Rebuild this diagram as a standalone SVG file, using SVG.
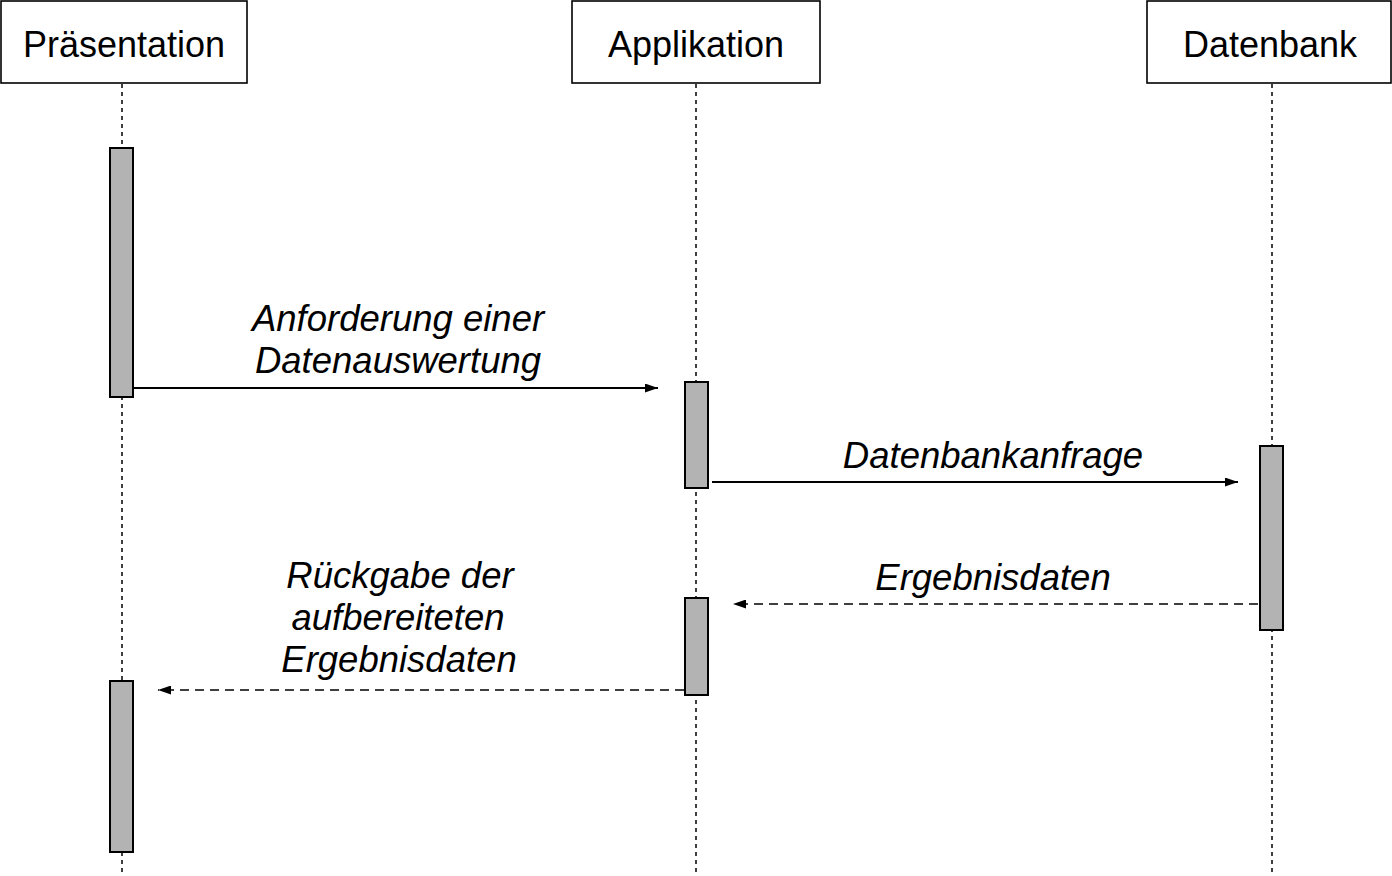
<svg xmlns="http://www.w3.org/2000/svg" width="1392" height="876" viewBox="0 0 1392 876">
<style>
.hdr{fill:#fff;stroke:#000;stroke-width:1.6}
.hdrt{font-family:"Liberation Sans",Arial,Helvetica,sans-serif;font-size:36px;fill:#000;text-anchor:middle}
.life{stroke:#000;stroke-width:1.5;stroke-dasharray:4 4;fill:none}
.act{fill:#b3b3b3;stroke:#000;stroke-width:2}
.msg{stroke:#000;stroke-width:2;fill:none}
.ret{stroke:#000;stroke-width:1.6;fill:none;stroke-dasharray:9 6}
.lbl{font-family:"Liberation Sans",Arial,Helvetica,sans-serif;font-size:36.5px;font-style:italic;fill:#000;text-anchor:middle}
</style>
<defs>
<marker id="ah" viewBox="0 0 13 9" refX="13" refY="4.5" markerWidth="13" markerHeight="9" markerUnits="userSpaceOnUse" orient="auto">
<path d="M0,0 L13,4.5 L0,9 Z" fill="#000"/>
</marker>
</defs>
<g id="lifelines">
<line class="life" x1="122" y1="84" x2="122" y2="876"/>
<line class="life" x1="696" y1="84" x2="696" y2="876"/>
<line class="life" x1="1272" y1="84" x2="1272" y2="876"/>
</g>
<g id="praesentation">
<rect class="hdr" x="1" y="1" width="246" height="82"/>
<text class="hdrt" x="124" y="57">Präsentation</text>
</g>
<g id="applikation">
<rect class="hdr" x="572" y="1" width="248" height="82"/>
<text class="hdrt" x="696" y="57">Applikation</text>
</g>
<g id="datenbank">
<rect class="hdr" x="1147" y="1" width="244" height="82"/>
<text class="hdrt" x="1270" y="57">Datenbank</text>
</g>
<g id="act-praesentation-1"><rect class="act" x="110" y="148" width="23" height="249"/></g>
<g id="act-applikation-1"><rect class="act" x="685" y="382" width="23" height="106"/></g>
<g id="act-datenbank"><rect class="act" x="1260" y="446" width="23" height="184"/></g>
<g id="act-applikation-2"><rect class="act" x="685" y="598" width="23" height="97"/></g>
<g id="act-praesentation-2"><rect class="act" x="110" y="681" width="23" height="171"/></g>
<g id="connectors">
<line class="msg" x1="133" y1="388" x2="658" y2="388" marker-end="url(#ah)"/>
<line class="msg" x1="712" y1="482" x2="1238" y2="482" marker-end="url(#ah)"/>
<line class="ret" x1="1258" y1="604" x2="733" y2="604" marker-end="url(#ah)"/>
<line class="ret" x1="684" y1="690" x2="158" y2="690" marker-end="url(#ah)"/>
</g>
<g id="labels">
<text class="lbl" x="398" y="331">Anforderung einer</text>
<text class="lbl" x="398" y="373">Datenauswertung</text>
<text class="lbl" x="993" y="468">Datenbankanfrage</text>
<text class="lbl" x="993" y="590">Ergebnisdaten</text>
<text class="lbl" x="400" y="588">Rückgabe der</text>
<text class="lbl" x="398" y="630">aufbereiteten</text>
<text class="lbl" x="399" y="672">Ergebnisdaten</text>
</g>
</svg>
